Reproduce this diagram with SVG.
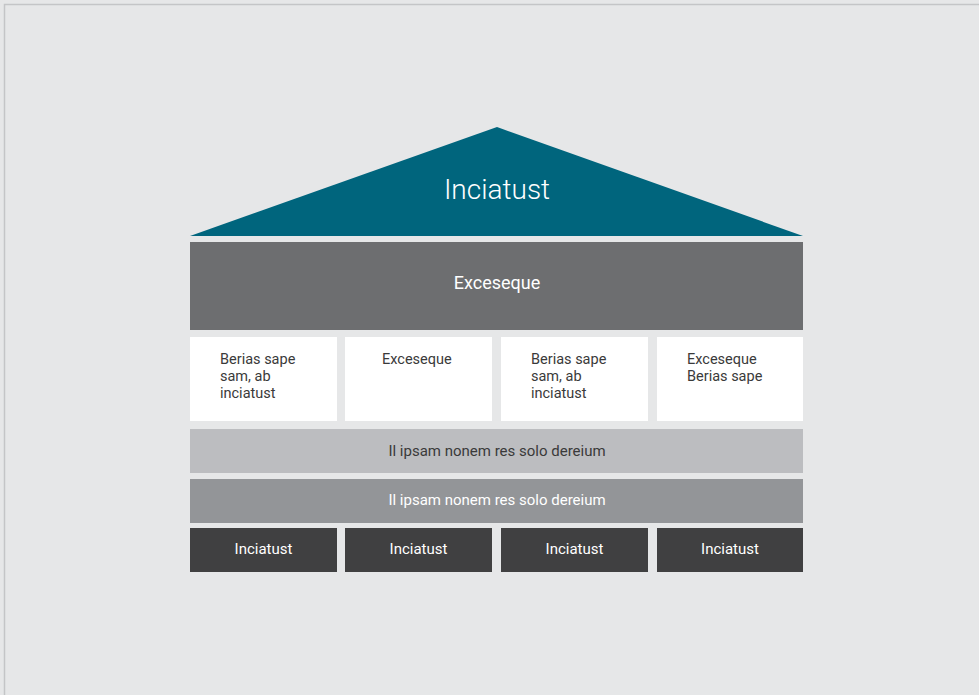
<svg xmlns="http://www.w3.org/2000/svg" width="979" height="695" viewBox="0 0 979 695">
<style>
text{font-family:Roboto,"Liberation Sans",sans-serif}
.c{text-anchor:middle}
.w{fill:#ffffff}
.d{fill:#3a3a3a}
.s{font-size:15px}
.t{font-size:14.5px}
.box{fill:#ffffff}
.base{fill:#404041}
</style>
<rect x="0" y="0" width="979" height="695" fill="#e6e7e8"/>
<rect x="4.5" y="4.5" width="990" height="710" fill="#e6e7e8" stroke="#c4c5c7" stroke-width="1.5"/>
<g id="roof">
<polygon points="497,127 190,236 803,236" fill="#00657d"/>
<text class="c w" x="497" y="199" font-size="28" font-weight="300">Inciatust</text>
</g>
<g id="top-band">
<rect x="190" y="242" width="613" height="88" fill="#6d6e70"/>
<text class="c w" x="497" y="289" font-size="18">Exceseque</text>
</g>
<g id="pillar1">
<rect class="box" x="190" y="337" width="147" height="84"/>
<text class="d t" x="220" y="364">Berias sape</text>
<text class="d t" x="220" y="381">sam, ab</text>
<text class="d t" x="220" y="398">inciatust</text>
</g>
<g id="pillar2">
<rect class="box" x="345" y="337" width="147" height="84"/>
<text class="d t" x="382" y="364">Exceseque</text>
</g>
<g id="pillar3">
<rect class="box" x="501" y="337" width="147" height="84"/>
<text class="d t" x="531" y="364">Berias sape</text>
<text class="d t" x="531" y="381">sam, ab</text>
<text class="d t" x="531" y="398">inciatust</text>
</g>
<g id="pillar4">
<rect class="box" x="657" y="337" width="146" height="84"/>
<text class="d t" x="687" y="364">Exceseque</text>
<text class="d t" x="687" y="381">Berias sape</text>
</g>
<g id="band1">
<rect x="190" y="429" width="613" height="44" fill="#bcbdc0"/>
<text class="c d s" x="497" y="456">Il ipsam nonem res solo dereium</text>
</g>
<g id="band2">
<rect x="190" y="479" width="613" height="44" fill="#939598"/>
<text class="c w s" x="497" y="505">Il ipsam nonem res solo dereium</text>
</g>
<g id="base1">
<rect class="base" x="190" y="528" width="147" height="44"/>
<text class="c w s" x="263.5" y="554">Inciatust</text>
</g>
<g id="base2">
<rect class="base" x="345" y="528" width="147" height="44"/>
<text class="c w s" x="418.5" y="554">Inciatust</text>
</g>
<g id="base3">
<rect class="base" x="501" y="528" width="147" height="44"/>
<text class="c w s" x="574.5" y="554">Inciatust</text>
</g>
<g id="base4">
<rect class="base" x="657" y="528" width="146" height="44"/>
<text class="c w s" x="730" y="554">Inciatust</text>
</g>
<g id="connectors"></g>
</svg>
